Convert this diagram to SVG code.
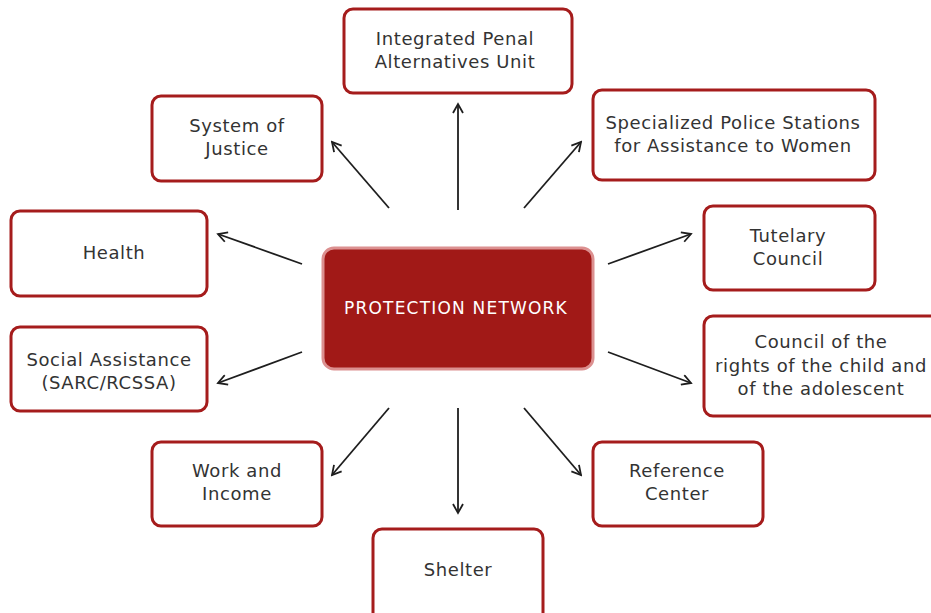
<svg xmlns="http://www.w3.org/2000/svg" width="931" height="613" viewBox="0 0 931 613">
<defs>
<marker id="ah" viewBox="0 0 12 12" refX="10" refY="6" markerWidth="12" markerHeight="12" markerUnits="userSpaceOnUse" orient="auto">
<path d="M1,1 L10,6 L1,11" fill="none" stroke="#1e1e1e" stroke-width="1.8"/>
</marker>
<style>
.box{fill:#fff;stroke:#a51c1c;stroke-width:3}
.t{font-family:"DejaVu Sans","Open Sans",sans-serif;font-size:18px;letter-spacing:0.6px;fill:#333;text-anchor:middle}
.c{stroke:#1e1e1e;stroke-width:1.8;fill:none;marker-end:url(#ah)}
</style>
</defs>
<rect width="931" height="613" fill="#fff"/>
<g id="center">
<rect x="323" y="248" width="270" height="121" rx="11" fill="#a11917" stroke="#dc9090" stroke-width="3"/>
<text class="t" x="456" y="314" style="fill:#fff;font-size:17px;letter-spacing:1.2px">PROTECTION NETWORK</text>
</g>
<g id="penal">
<rect class="box" x="344" y="9" width="228" height="84" rx="9"/>
<text class="t" x="455" y="45">Integrated Penal</text>
<text class="t" x="455" y="68">Alternatives Unit</text>
</g>
<g id="justice">
<rect class="box" x="152" y="96" width="170" height="85" rx="9"/>
<text class="t" x="237" y="132">System of</text>
<text class="t" x="237" y="155">Justice</text>
</g>
<g id="police">
<rect class="box" x="593" y="90" width="282" height="90" rx="9"/>
<text class="t" x="733" y="129">Specialized Police Stations</text>
<text class="t" x="733" y="152">for Assistance to Women</text>
</g>
<g id="health">
<rect class="box" x="11" y="211" width="196" height="85" rx="9"/>
<text class="t" x="114" y="259">Health</text>
</g>
<g id="tutelary">
<rect class="box" x="704" y="206" width="171" height="84" rx="9"/>
<text class="t" x="788" y="242">Tutelary</text>
<text class="t" x="788" y="265">Council</text>
</g>
<g id="social">
<rect class="box" x="11" y="327" width="196" height="84" rx="9"/>
<text class="t" x="109" y="366">Social Assistance</text>
<text class="t" x="109" y="389">(SARC/RCSSA)</text>
</g>
<g id="rights">
<rect class="box" x="704" y="316" width="240" height="100" rx="9"/>
<text class="t" x="821" y="348">Council of the</text>
<text class="t" x="821" y="372">rights of the child and</text>
<text class="t" x="821" y="395">of the adolescent</text>
</g>
<g id="work">
<rect class="box" x="152" y="442" width="170" height="84" rx="9"/>
<text class="t" x="237" y="477">Work and</text>
<text class="t" x="237" y="500">Income</text>
</g>
<g id="reference">
<rect class="box" x="593" y="442" width="170" height="84" rx="9"/>
<text class="t" x="677" y="477">Reference</text>
<text class="t" x="677" y="500">Center</text>
</g>
<g id="shelter">
<rect class="box" x="373" y="529" width="170" height="95" rx="9"/>
<text class="t" x="458" y="576">Shelter</text>
</g>
<g id="connectors">
<line class="c" x1="458" y1="210" x2="458" y2="104"/>
<line class="c" x1="389" y1="208" x2="332" y2="142"/>
<line class="c" x1="524" y1="208" x2="581" y2="142"/>
<line class="c" x1="302" y1="264" x2="218" y2="234"/>
<line class="c" x1="608" y1="264" x2="691" y2="234"/>
<line class="c" x1="302" y1="352" x2="218" y2="383"/>
<line class="c" x1="608" y1="352" x2="691" y2="383"/>
<line class="c" x1="389" y1="408" x2="332" y2="475"/>
<line class="c" x1="524" y1="408" x2="581" y2="475"/>
<line class="c" x1="458" y1="408" x2="458" y2="513"/>
</g>
</svg>
